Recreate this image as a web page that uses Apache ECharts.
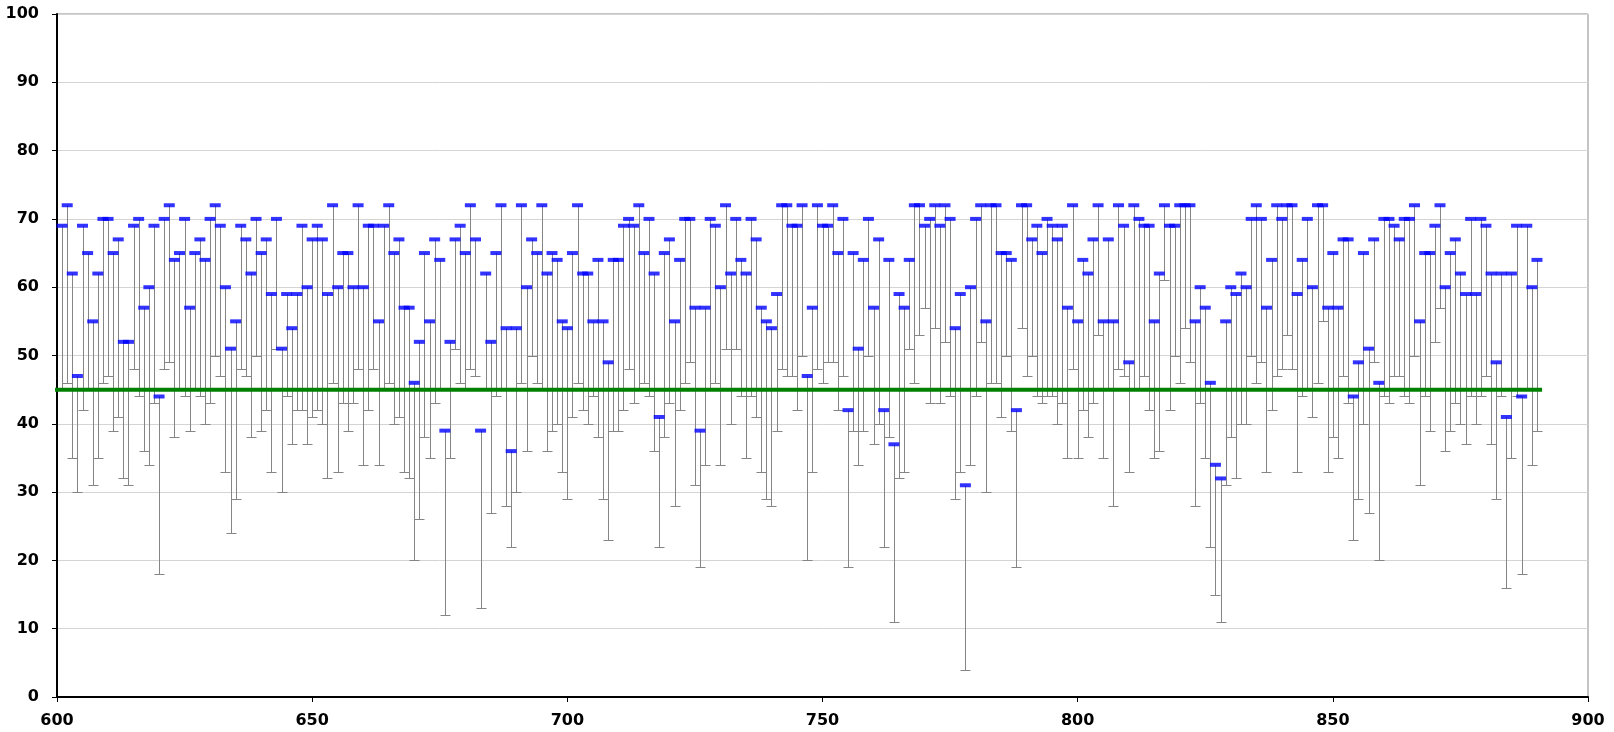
<!DOCTYPE html>
<html><head><meta charset="utf-8">
<script src="https://cdn.jsdelivr.net/npm/echarts@6/dist/echarts.min.js"></script>
<style>html,body{margin:0;padding:0;background:#fff}#c{width:1614px;height:732px}</style>
</head><body><div id="c"></div>
<script>
// first x position; points are consecutive integers
const xFirst = 601;
// marker values (blue dashes)
const values = [
69,72,62,47,69,65,55,62,70,70,65,67,52,52,69,70,57,60,69,44,
70,72,64,65,70,57,65,67,64,70,72,69,60,51,55,69,67,62,70,65,
67,59,70,51,59,54,59,69,60,67,69,67,59,72,60,65,65,60,72,60,
69,69,55,69,72,65,67,57,57,46,52,65,55,67,64,39,52,67,69,65,
72,67,39,62,52,65,72,54,36,54,72,60,67,65,72,62,65,64,55,54,
65,72,62,62,55,64,55,49,64,64,69,70,69,72,65,70,62,41,65,67,
55,64,70,70,57,39,57,70,69,60,72,62,70,64,62,70,67,57,55,54,
59,72,72,69,69,72,47,57,72,69,69,72,65,70,42,65,51,64,70,57,
67,42,64,37,59,57,64,72,72,69,70,72,69,72,70,54,59,31,60,70,
72,55,72,72,65,65,64,42,72,72,67,69,65,70,69,67,69,57,72,55,
64,62,67,72,55,67,55,72,69,49,72,70,69,69,55,62,72,69,69,72,
72,72,55,60,57,46,34,32,55,60,59,62,60,70,72,70,57,64,72,70,
72,72,59,64,70,60,72,72,57,65,57,67,67,44,49,65,51,67,46,70,
70,69,67,70,70,72,55,65,65,69,72,60,65,67,62,59,70,59,70,69,
62,49,62,41,62,69,44,69,60,64
];
// lower ends of the whiskers
const lows = [
45,46,35,30,42,45,31,35,46,47,39,41,32,31,48,44,36,34,43,18,
48,49,38,45,44,39,45,44,40,43,50,47,33,24,29,48,47,38,50,39,
42,33,51,30,44,37,42,42,37,41,42,40,32,46,33,43,39,43,48,34,
42,48,34,45,46,40,41,33,32,20,26,38,35,43,45,12,35,51,46,45,
48,47,13,45,27,44,45,28,22,30,46,36,50,46,45,36,39,40,33,29,
41,46,42,40,44,38,29,23,39,39,42,48,43,45,46,44,36,22,38,43,
28,42,46,49,31,19,34,45,46,34,51,40,51,44,35,44,41,33,29,28,
39,48,47,47,42,50,20,33,48,46,49,49,42,47,19,39,34,39,50,37,
40,22,38,11,32,33,51,46,53,57,43,54,43,52,44,29,33,4,34,44,
52,30,46,46,41,50,39,19,54,47,50,44,43,44,44,40,43,35,48,35,
42,38,43,53,35,45,28,48,47,33,45,45,47,42,35,36,61,42,50,46,
54,49,28,43,35,22,15,11,31,38,32,40,40,50,46,49,33,42,47,48,
53,48,33,44,45,41,46,55,33,38,35,47,43,23,29,40,27,49,20,44,
43,47,47,44,43,50,31,44,39,52,57,36,39,43,40,37,44,40,44,47,
37,29,44,16,35,44,18,45,34,39
];
// reference level (green line) and its x extent
const targetLevel = 45;
const targetFrom = 599.6;
const targetTo = 891;
const yTicks = [0,10,20,30,40,50,60,70,80,90,100];
const xTicks = [600,650,700,750,800,850,900];

const pts = values.map((v, i) => [xFirst + i, v, lows[i]]);
const chart = echarts.init(document.getElementById('c'), null, {renderer: 'canvas'});
const labelFont = {fontFamily: 'DejaVu Sans', fontWeight: 'bold', fontSize: 16, color: '#000'};
chart.setOption({
  animation: false,
  backgroundColor: '#fff',
  grid: {left: 57, right: 26, top: 14, bottom: 35, show: true, borderColor: '#8a8a8a', borderWidth: 1},
  xAxis: {
    type: 'value', min: xTicks[0], max: xTicks[xTicks.length - 1], interval: 50,
    axisLine: {show: true, lineStyle: {color: '#000', width: 2}},
    axisTick: {show: true, length: 5, lineStyle: {color: '#000', width: 1}},
    axisLabel: Object.assign({margin: 16}, labelFont),
    splitLine: {show: false}
  },
  yAxis: {
    type: 'value', min: yTicks[0], max: yTicks[yTicks.length - 1], interval: 10,
    axisLine: {show: true, lineStyle: {color: '#000', width: 2}},
    axisTick: {show: true, length: 5, lineStyle: {color: '#000', width: 1}},
    axisLabel: Object.assign({margin: 18}, labelFont),
    splitLine: {show: true, lineStyle: {color: '#d4d4d4', width: 1}}
  },
  series: [
    {
      type: 'custom',
      data: pts,
      z: 1,
      renderItem: function (params, api) {
        const x = api.value(0), v = api.value(1), lo = api.value(2);
        const t = api.coord([x, v]);
        const b = api.coord([x, lo]);
        const px = Math.round(t[0]) + 0.5;
        const by = Math.round(b[1]) + 0.5;
        return {type: 'group', children: [
          {type: 'line', shape: {x1: px, y1: t[1], x2: px, y2: by}, style: {stroke: '#858585', lineWidth: 1}},
          {type: 'line', shape: {x1: px - 5, y1: by, x2: px + 5, y2: by}, style: {stroke: '#858585', lineWidth: 1}}
        ]};
      }
    },
    {
      type: 'line',
      data: [[targetFrom, targetLevel], [targetTo, targetLevel]],
      z: 2,
      symbol: 'none',
      lineStyle: {color: '#008000', width: 4},
      silent: true
    },
    {
      type: 'scatter',
      data: pts.map(p => [p[0], p[1]]),
      z: 3,
      symbol: 'rect',
      symbolSize: [11, 4],
      itemStyle: {color: '#0000ff'}
    }
  ]
});
</script>
</body></html>
